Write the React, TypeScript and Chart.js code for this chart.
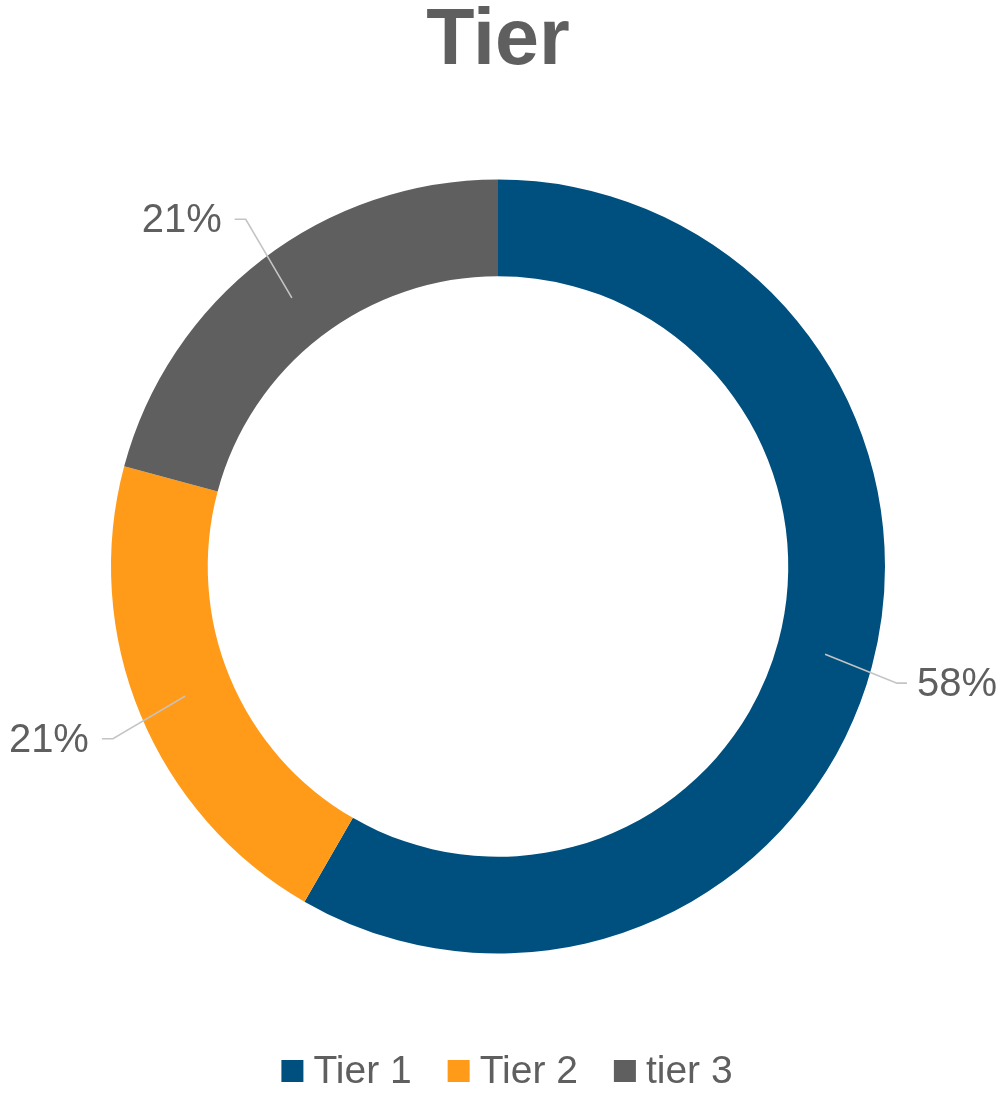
import React, { useEffect, useRef } from "react";
import { Chart, registerables } from "chart.js";

Chart.register(...registerables);

const chartTitle = "Tier";
const categories = ["Tier 1", "Tier 2", "tier 3"];
const counts = [14, 5, 5];
const sliceColors = ["#00507f", "#ff9b19", "#5f5f5f"];

const TEXT_COLOR = "#5f5f5f";
const LINE_COLOR = "#c4c4c4";
const FONT = "'Liberation Sans', Arial, Helvetica, sans-serif";

// label leader styling per slice (elbow radius factor, angle nudge in degrees)
const elbowScale = [1.074, 1.09, 1.109];
const elbowNudgeDeg = [1.3, -1.6, 1.5];

const leaderPlugin = {
  id: "leaderLabels",
  afterDatasetsDraw(chart: any) {
    const ctx = chart.ctx as CanvasRenderingContext2D;
    const meta = chart.getDatasetMeta(0);
    const data = chart.data.datasets[0].data as number[];
    const total = data.reduce((a, b) => a + b, 0);
    ctx.save();
    meta.data.forEach((arc: any, i: number) => {
      const p = arc.getProps(["x", "y", "startAngle", "endAngle", "innerRadius", "outerRadius"], true);
      const mid = (p.startAngle + p.endAngle) / 2;
      const rMid = (p.innerRadius + p.outerRadius) / 2;
      const sx = p.x + Math.cos(mid) * rMid;
      const sy = p.y + Math.sin(mid) * rMid;
      const ea = mid + (elbowNudgeDeg[i] * Math.PI) / 180;
      const rEl = p.outerRadius * elbowScale[i];
      const ex = p.x + Math.cos(ea) * rEl;
      const ey = p.y + Math.sin(ea) * rEl;
      const right = Math.cos(mid) >= 0;
      const hx = ex + (right ? 10 : -11);
      ctx.strokeStyle = LINE_COLOR;
      ctx.lineWidth = 1.6;
      ctx.beginPath();
      ctx.moveTo(sx, sy);
      ctx.lineTo(ex, ey);
      ctx.lineTo(hx, ey);
      ctx.stroke();
      const label = `${Math.round((data[i] / total) * 100)}%`;
      ctx.fillStyle = TEXT_COLOR;
      ctx.font = `40px ${FONT}`;
      ctx.textBaseline = "middle";
      ctx.textAlign = right ? "left" : "right";
      ctx.fillText(label, hx + (right ? 10 : -13), ey + 2);
    });
    ctx.restore();
  },
};

const legendPlugin = {
  id: "bottomLegend",
  afterDraw(chart: any) {
    const ctx = chart.ctx as CanvasRenderingContext2D;
    const labels = chart.data.labels as string[];
    const colors = chart.data.datasets[0].backgroundColor as string[];
    const box = 22;
    const gapBoxText = 10;
    const gapItems = 36;
    ctx.save();
    ctx.font = `39px ${FONT}`;
    const widths = labels.map((l) => ctx.measureText(l).width);
    const total =
      widths.reduce((a, w) => a + box + gapBoxText + w, 0) + gapItems * (labels.length - 1);
    let x = chart.width / 2 + 7 - total / 2;
    const cy = 1071;
    labels.forEach((l, i) => {
      ctx.fillStyle = colors[i];
      ctx.fillRect(x, cy - box / 2, box, box);
      x += box + gapBoxText;
      ctx.fillStyle = TEXT_COLOR;
      ctx.textBaseline = "middle";
      ctx.textAlign = "left";
      ctx.fillText(l, x, cy + 1);
      x += widths[i] + gapItems;
    });
    ctx.restore();
  },
};

export default function App() {
  const canvasRef = useRef<HTMLCanvasElement | null>(null);

  useEffect(() => {
    if (!canvasRef.current) return;
    const chart = new Chart(canvasRef.current, {
      type: "doughnut",
      data: {
        labels: categories,
        datasets: [
          {
            data: counts,
            backgroundColor: sliceColors,
            borderWidth: 0,
          },
        ],
      },
      options: {
        animation: false,
        responsive: true,
        maintainAspectRatio: false,
        cutout: "75%",
        layout: { padding: { left: 0, right: 4, top: 0, bottom: 142.5 } },
        plugins: {
          legend: { display: false },
          tooltip: { enabled: false },
          title: {
            display: true,
            text: chartTitle,
            color: TEXT_COLOR,
            font: { family: FONT, size: 79, weight: "bold", lineHeight: 1 },
            padding: { top: 3, bottom: 97.5 },
          },
        },
      },
      plugins: [leaderPlugin, legendPlugin],
    });
    return () => chart.destroy();
  }, []);

  return (
    <div
      style={{
        position: "fixed",
        left: 0,
        top: 0,
        width: 1000,
        height: 1096,
        background: "#ffffff",
      }}
    >
      <canvas ref={canvasRef} />
    </div>
  );
}
